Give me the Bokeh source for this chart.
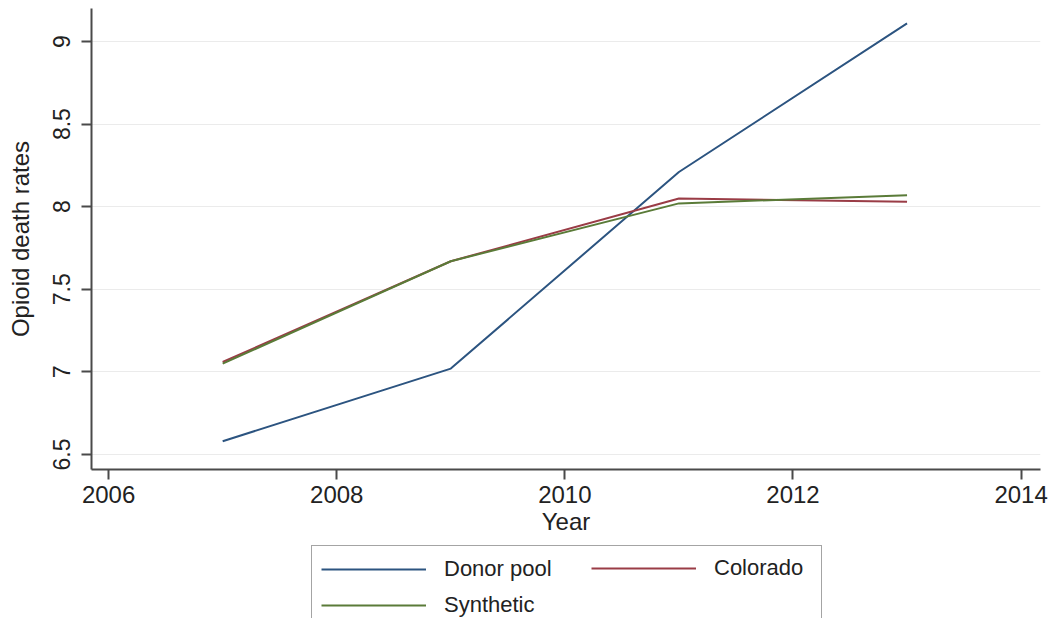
from bokeh.plotting import figure
from bokeh.layouts import column
from bokeh.models import FixedTicker, Legend, LegendItem, Range1d
from bokeh.embed import file_html
from bokeh.resources import INLINE

# Opioid death rates, donor pool average vs. Colorado and its synthetic control
years = [2007, 2009, 2011, 2013]
donor_pool = [6.58, 7.02, 8.21, 9.11]
colorado = [7.06, 7.67, 8.05, 8.03]
synthetic = [7.05, 7.67, 8.02, 8.07]

series_names = ["Donor pool", "Colorado", "Synthetic"]
series_values = [donor_pool, colorado, synthetic]
series_colors = ["#2c5480", "#9a3c46", "#5a7b38"]

x_ticks = [2006, 2008, 2010, 2012, 2014]
x_tick_labels = ["2006", "2008", "2010", "2012", "2014"]
y_ticks = [6.5, 7, 7.5, 8, 8.5, 9]
y_tick_labels = ["6.5", "7", "7.5", "8", "8.5", "9"]

FONT = "Liberation Sans"
AXIS_GRAY = "#4a4a4a"
TEXT = "#222222"
LINE_W = 2

p = figure(
    width=1055, height=541,
    x_range=Range1d(2005.85, 2014.17),
    y_range=Range1d(6.409, 9.2),
    output_backend="svg", toolbar_location=None,
    min_border_left=91, min_border_right=15,
    min_border_top=8, min_border_bottom=72,
)
p.outline_line_color = None

# axes
p.xaxis.ticker = FixedTicker(ticks=x_ticks)
p.xaxis.major_label_overrides = dict(zip(x_ticks, x_tick_labels))
p.yaxis.ticker = FixedTicker(ticks=y_ticks)
p.yaxis.major_label_overrides = dict(zip(y_ticks, y_tick_labels))
p.yaxis.major_label_orientation = "vertical"

for ax in (p.xaxis, p.yaxis):
    ax.axis_line_color = AXIS_GRAY
    ax.axis_line_width = 2
    ax.major_tick_line_color = AXIS_GRAY
    ax.major_tick_line_width = 2
    ax.major_tick_in = 0
    ax.major_tick_out = 10
    ax.minor_tick_line_color = None
    ax.major_label_text_font = FONT
    ax.major_label_text_color = TEXT
    ax.axis_label_text_font = FONT
    ax.axis_label_text_font_style = "normal"
    ax.axis_label_text_color = TEXT
    ax.axis_label_text_font_size = "24px"

p.xaxis.major_label_text_font_size = "24px"
p.yaxis.major_label_text_font_size = "23px"
p.xaxis.major_label_standoff = 6
p.yaxis.major_label_standoff = 11
p.xaxis.axis_label = "Year"
p.yaxis.axis_label = "Opioid death rates"
p.xaxis.axis_label_standoff = 2
p.yaxis.axis_label_standoff = 17

p.xgrid.visible = False
p.ygrid.grid_line_color = "#ebebeb"
p.ygrid.grid_line_width = 1

# series
for vals, color in zip(series_values, series_colors):
    p.line(years, vals, line_color=color, line_width=LINE_W)

# legend strip under the chart (its frame lines up with the chart's frame)
leg = figure(
    width=1055, height=77, min_border=0,
    x_range=Range1d(0, 1), y_range=Range1d(0, 1),
    x_axis_type=None, y_axis_type=None,
    output_backend="svg", toolbar_location=None,
)
leg.outline_line_color = None
leg.grid.visible = False

# key renderers: same series, kept outside this strip's visible range
keys = [leg.line(years, vals, line_color=c, line_width=LINE_W)
        for vals, c in zip(series_values, series_colors)]
key = dict(zip(series_names, keys))

common = dict(
    border_line_color=None, background_fill_alpha=0,
    label_text_font=FONT, label_text_font_size="22px", label_text_color=TEXT,
    glyph_width=105, glyph_height=20, label_standoff=18,
    label_height=28, padding=9, spacing=8, margin=0,
)

# first column holds the frame; second column sits on top of it
leg_a = Legend(
    items=[LegendItem(label="Donor pool", renderers=[key["Donor pool"]]),
           LegendItem(label="Synthetic", renderers=[key["Synthetic"]])],
    location=(220, -11), label_width=368, **common,
)
leg_a.border_line_color = AXIS_GRAY
leg_a.border_line_width = 1.5
leg_a.background_fill_color = "white"
leg_a.background_fill_alpha = 1

leg_b = Legend(
    items=[LegendItem(label="Colorado", renderers=[key["Colorado"]])],
    location=(500, 36), **common,
)

leg.add_layout(leg_a, "center")
leg.add_layout(leg_b, "center")

open("out.html", "w").write(file_html(column(p, leg, spacing=0), INLINE))
